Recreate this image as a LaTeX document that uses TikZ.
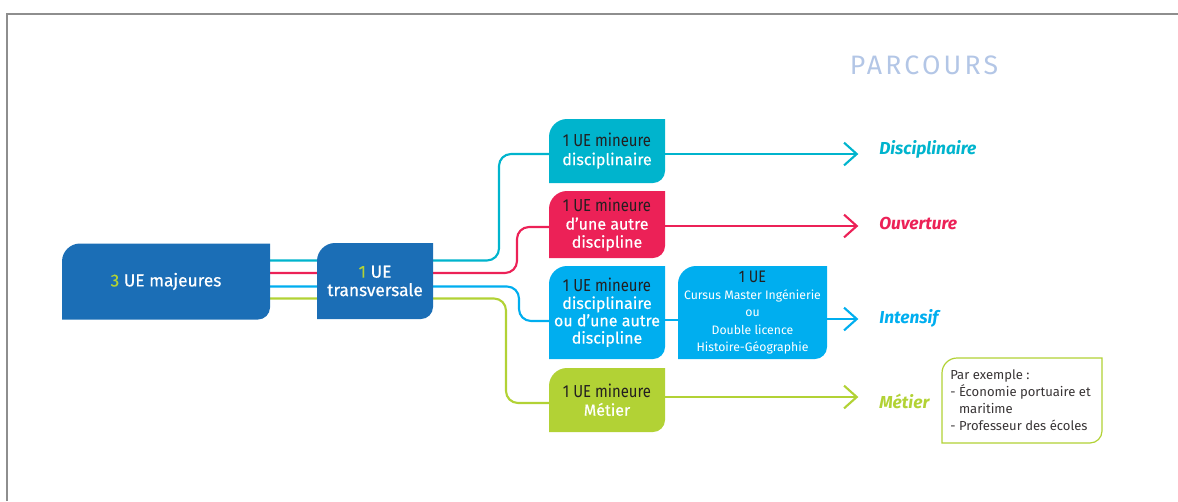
\documentclass[tikz,border=0pt]{standalone}
\usepackage{fontspec}
\setmainfont{Fira Sans}
\newfontfamily\condf[FakeStretch=0.86]{Fira Sans}
\newfontfamily\medf[FakeBold=0.5]{Fira Sans}
\newfontfamily\titlef[LetterSpace=12]{Fira Sans}
\usetikzlibrary{arrows.meta,calc}
\definecolor{dblue}{HTML}{1B6EB6}
\definecolor{ccyan}{HTML}{00B4CD}
\definecolor{cred}{HTML}{EC2157}
\definecolor{lblue}{HTML}{00AEEF}
\definecolor{cgreen}{HTML}{B2D235}
\definecolor{ptitle}{HTML}{B3C6E6}
\definecolor{framec}{HTML}{8E8E8E}
\definecolor{dtext}{HTML}{231F20}
\pgfdeclarelayer{lines}
\pgfdeclarelayer{fills}
\pgfsetlayers{lines,fills,main}
% #1 node, #2 path options, #3 top-left radius, #4 bottom-right radius
\newcommand\leafpath[4]{%
  \path[#2] (#1.south west) -- ($(#1.north west)+(0,#3)$)
    .. controls ($(#1.north west)+(0,0.45*#3)$) and ($(#1.north west)+(0.45*#3,0)$) .. ($(#1.north west)+(#3,0)$)
    -- (#1.north east) -- ($(#1.south east)+(0,-#4)$)
    .. controls ($(#1.south east)+(0,-0.45*#4)$) and ($(#1.south east)+(-0.45*#4,0)$) .. ($(#1.south east)+(-#4,0)$)
    -- cycle;}
\newcommand\mn{{\fontsize{13}{13.6}\condf\color{dtext}1 UE mineure}}
\begin{document}
\begin{tikzpicture}[x=0.75pt,y=-0.75pt,
  ubox/.style={inner sep=0, outer sep=0, align=center, text=white, font=\fontsize{12}{13.6}\medf},
  conn/.style={line width=1.6pt, rounded corners=9pt},
  arr/.style={line width=1.6pt, shorten >=15.5pt, -{Straight Barb[length=9.5pt,width=17pt]}},
  lab/.style={inner sep=0, anchor=west, font=\fontsize{13}{15}\selectfont\bfseries\itshape}]
\useasboundingbox (0,0) rectangle (1178,501);
% frame
\draw[framec, line width=1.5pt] (7,501) -- (7,13.5) -- (1178,13.5);
% title
\node[inner sep=0, text=ptitle, font=\fontsize{20}{22}\titlef] (title) at (924,65) {PARCOURS};
% boxes
\node[ubox, minimum width=156pt, minimum height=57pt, font=\fontsize{13}{14}\medf] (maj) at (166,281.5) {\textcolor{cgreen}{3} UE majeures};
\node[ubox, minimum width=87pt, minimum height=57pt, font=\fontsize{13}{13.8}\medf] (tra) at (375,281) {\textcolor{cgreen}{1} UE\\transversale};
\node[ubox, minimum width=87pt, minimum height=48pt] (dis) at (607,151) {\mn\\disciplinaire};
\node[ubox, minimum width=87pt, minimum height=50.25pt] (oth) at (607,224.5) {\mn\\d’une autre\\discipline};
\node[ubox, minimum width=87pt, minimum height=69.75pt, font=\fontsize{12}{13}\medf] (ido) at (607,312.5) {\mn\\disciplinaire\\ou d’une autre\\discipline};
\node[ubox, minimum width=111.75pt, minimum height=69.75pt, font=\fontsize{9.2}{13.1}\selectfont] (cur) at (752.5,312.5) {{\fontsize{12.5}{13.1}\condf\color{dtext}1 UE}\\Cursus Master Ingénierie\\ou\\Double licence\\Histoire-Géographie};
\node[ubox, minimum width=87pt, minimum height=48pt] (met) at (607,400) {\mn\\Métier};
% example box
\node[inner sep=0, outer sep=0, minimum width=120pt, minimum height=63.75pt] (ex) at (1022,400.5) {};
\node[inner sep=0, anchor=west, align=left, text=dtext!90, font=\fontsize{9.8}{12.75}\selectfont] (extxt) at (950,400.5)
  {Par exemple :\\- Économie portuaire et\\\phantom{- }maritime\\- Professeur des écoles};
% labels
\node[lab, text=ccyan] (ldis) at (879,149) {Disciplinaire};
\node[lab, text=cred] (lou) at (879,223) {Ouverture};
\node[lab, text=lblue] (lint) at (879,318) {Intensif};
\node[lab, text=cgreen] (lmet) at (879,401) {Métier};
% fills
\begin{pgfonlayer}{fills}
\leafpath{maj}{fill=dblue}{18}{12}
\leafpath{tra}{fill=dblue}{18}{12}
\leafpath{dis}{fill=ccyan}{18}{12}
\leafpath{oth}{fill=cred}{18}{12}
\leafpath{ido}{fill=lblue}{18}{12}
\leafpath{cur}{fill=lblue}{18}{12}
\leafpath{met}{fill=cgreen}{18}{12}
\leafpath{ex}{fill=white,draw=cgreen,line width=0.9pt}{15}{12}
\end{pgfonlayer}
% connectors
\begin{pgfonlayer}{lines}
\draw[conn, ccyan] ($(maj.east)+(0,-21)$) -- (499,260.5) -- (499,154) -- (dis.west |- 0,154);
\draw[conn, cred] ($(maj.east)+(0,-8.5)$) -- (517,273) -- (517,227) -- (oth.west |- 0,227);
\draw[conn, lblue] ($(maj.east)+(0,5)$) -- (519,286.5) -- (519,321) -- (ido.west |- 0,321);
\draw[conn, cgreen] ($(maj.east)+(0,17)$) -- (506,298.5) -- (506,403) -- (met.west |- 0,403);
\draw[arr, ccyan] (dis.east |- 0,154) -- (ldis.west |- 0,154);
\draw[arr, cred] (oth.east |- 0,226) -- (lou.west |- 0,226);
\draw[conn, lblue] (ido.east |- 0,320) -- (cur.west |- 0,320);
\draw[arr, lblue] (cur.east |- 0,319) -- (lint.west |- 0,319);
\draw[arr, cgreen] (met.east |- 0,397) -- (lmet.west |- 0,397);
\end{pgfonlayer}
\end{tikzpicture}
\end{document}
